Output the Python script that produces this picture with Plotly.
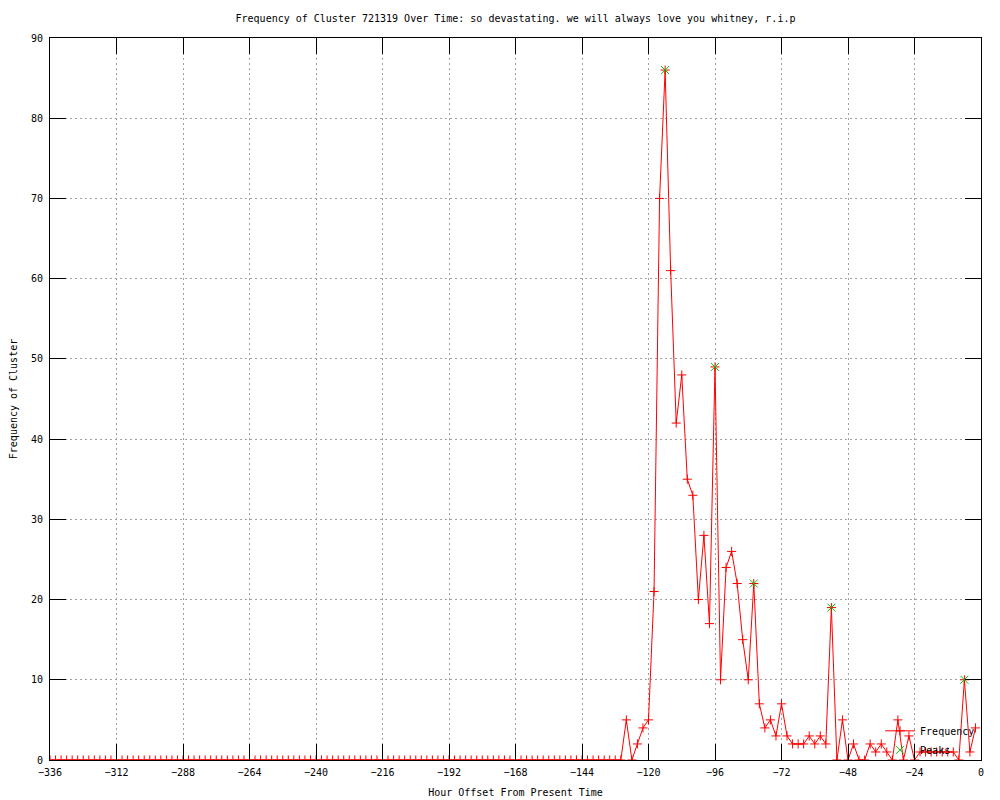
import plotly.graph_objects as go

# Hour offsets (every 2 hours from -336 to -2)
hours = list(range(-336, 0, 2))

# Frequency values, one per hour offset above
frequency = [
    0, 0, 0, 0, 0, 0, 0, 0, 0, 0, 0, 0, 0, 0, 0, 0, 0, 0, 0, 0, 0, 0, 0, 0, 0, 0,
    0, 0, 0, 0, 0, 0, 0, 0, 0, 0, 0, 0, 0, 0, 0, 0, 0, 0, 0, 0, 0, 0, 0, 0, 0, 0,
    0, 0, 0, 0, 0, 0, 0, 0, 0, 0, 0, 0, 0, 0, 0, 0, 0, 0, 0, 0, 0, 0, 0, 0, 0, 0,
    0, 0, 0, 0, 0, 0, 0, 0, 0, 0, 0, 0, 0, 0, 0, 0, 0, 0, 0, 0, 0, 0, 0, 0, 0, 0,
    5, 0, 2, 4, 5, 21, 70, 86, 61, 42, 48, 35, 33, 20, 28, 17,
    49, 10, 24, 26, 22, 15, 10, 22, 7, 4, 5, 3, 7, 3, 2, 2,
    2, 3, 2, 3, 2, 19, 0, 5, 0, 2, 0, 0, 2, 1, 2, 1,
    0, 5, 0, 3, 0, 1, 1, 1, 1, 1, 1, 1, 0, 10, 1, 4,
]

# Detected peaks
peak_hours = [-114, -96, -82, -54, -6]
peak_values = [86, 49, 22, 19, 10]

x_ticks = list(range(-336, 1, 24))
y_ticks = list(range(0, 91, 10))

FONT = "DejaVu Sans Mono"

fig = go.Figure()
fig.add_trace(go.Scatter(
    x=hours, y=frequency, mode="lines+markers", name="Frequency",
    line=dict(color="#ff0000", width=1),
    marker=dict(symbol="cross-thin", size=6.5, color="#ff0000",
                line=dict(color="#ff0000", width=1)),
))
fig.add_trace(go.Scatter(
    x=peak_hours, y=peak_values, mode="markers", name="Peaks",
    marker=dict(symbol="x-thin", size=8, color="#00c000",
                line=dict(color="#00c000", width=1)),
))

axis_common = dict(
    showline=True, linecolor="black", linewidth=1, mirror="ticks",
    ticks="inside", ticklen=16, tickcolor="black", tickwidth=1,
    showgrid=True, gridcolor="#a0a0a0", griddash="2px,3px", gridwidth=1,
    zeroline=False, automargin=False,
    tickfont=dict(family=FONT, size=10, color="black"),
)

# The page body adds an 8px offset, so the figure is 992x792
fig.update_layout(
    width=992, height=792,
    margin=dict(l=42, r=19, t=30, b=40),
    paper_bgcolor="white", plot_bgcolor="white",
    font=dict(family=FONT, size=10, color="black"),
    title=dict(
        text="Frequency of Cluster 721319 Over Time: so devastating. we will always love you whitney, r.i.p",
        xref="paper", x=0.5, xanchor="center", y=1 - 10 / 792, yanchor="middle",
        font=dict(family=FONT, size=10, color="black"),
    ),
    xaxis=dict(
        range=[-336, 0], tickmode="array", tickvals=x_ticks,
        ticklabelstandoff=3,
        title=dict(text="Hour Offset From Present Time", standoff=11,
                   font=dict(family=FONT, size=10)),
        **axis_common,
    ),
    yaxis=dict(
        range=[0, 90], tickmode="array", tickvals=y_ticks,
        ticklabelstandoff=4,
        title=dict(text="Frequency of Cluster", standoff=12,
                   font=dict(family=FONT, size=10)),
        **axis_common,
    ),
    legend=dict(
        x=0.999, xanchor="right", y=-0.006, yanchor="bottom",
        bgcolor="rgba(0,0,0,0)", borderwidth=0,
        font=dict(family=FONT, size=10, color="black"),
        tracegroupgap=0, itemwidth=30,
    ),
)

fig.write_html("out.html")
